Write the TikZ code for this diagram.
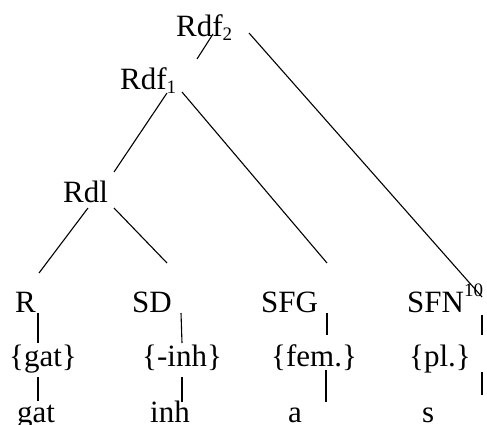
\documentclass[tikz,border=0pt]{standalone}
\usepackage{fontspec}
\setmainfont{Liberation Serif}
\usepackage{tikz}
\usetikzlibrary{positioning}
\newcommand\lo[1]{\raisebox{-3.5pt}{\fontsize{19}{19}\selectfont #1}}
\newcommand\hi[1]{\raisebox{16pt}{\fontsize{19}{19}\selectfont #1}}

\begin{document}
\begin{tikzpicture}[% styles for the whole tree, x/y in page pixels (y goes down)
				x=1pt,y=-1pt,
				every node/.style={
					font=\fontsize{31}{36}\selectfont,
					inner sep=0pt,
					anchor=base west	% place each label by its baseline
				},
				every edge/.style={draw,line width=1.1pt}
			]
			\useasboundingbox (0,0) rectangle (487,425);
			% upper part of the tree
			\node (Rdf2) at (176,37) {Rdf\lo{2}};
			\node (Rdf1) at (120,90) {Rdf\lo{1}};
			\node (Rdl) at (63,202) {Rdl};
			% first row
			\node (R) at (15,312) {R};
			\node (SD) at (132,312) {SD};
			\node (SFG) at (261,312) {SFG};
			\node (SFN) at (407,312) {SFN\hi{10}};
			% second row
			\node (M1) at (9,366) {\{gat\}};
			\node (M2) at (142,366) {\{-inh\}};
			\node (M3) at (271,366) {\{fem.\}};
			\node (M4) at (409,366) {\{pl.\}};
			% third row
			\node (W1) at (17,422) {gat};
			\node (W2) at (150,422) {inh};
			\node (W3) at (288,422) {a};
			\node (W4) at (422,422) {s};
			% ends of the branches
			\coordinate (Rdf2-l) at (213,34);
			\coordinate (Rdf2-r) at (249,33);
			\coordinate (Rdf1-t) at (197,59);
			\coordinate (Rdf1-l) at (167,93);
			\coordinate (Rdf1-r) at (182,92);
			\coordinate (Rdl-t) at (114,172);
			\coordinate (Rdl-l) at (88,208);
			\coordinate (Rdl-r) at (114,208);
			\coordinate (R-t) at (39,273);
			\coordinate (SD-t) at (167,263);
			\coordinate (SFG-t) at (327,263);
			\coordinate (SFN-t) at (482,297);
			\path
			(Rdf2-l) edge (Rdf1-t)
			(Rdf2-r) edge (SFN-t)
			(Rdf1-l) edge (Rdl-t)
			(Rdf1-r) edge (SFG-t)
			(Rdl-l) edge (R-t)
			(Rdl-r) edge (SD-t)
			;
			% vertical strokes between the rows
			\coordinate (R-b) at (38,313);
			\coordinate (M1-t) at (38,343);
			\coordinate (M1-b) at (38,377);
			\coordinate (W1-t) at (38,401);
			\coordinate (SD-b) at (181,313);
			\coordinate (M2-t) at (182,343);
			\coordinate (M2-b) at (182,377);
			\coordinate (W2-t) at (182,402);
			\coordinate (SFG-b) at (327,313);
			\coordinate (M3-t) at (327,335);
			\coordinate (M3-b) at (326,370);
			\coordinate (W3-t) at (326,402);
			\coordinate (SFN-b) at (482,315);
			\coordinate (M4-t) at (482,335);
			\coordinate (M4-b) at (482,372);
			\coordinate (W4-t) at (482,395);
			\path
			(R-b) edge (M1-t)
			(M1-b) edge (W1-t)
			(SD-b) edge (M2-t)
			(M2-b) edge (W2-t)
			(SFG-b) edge (M3-t)
			(M3-b) edge (W3-t)
			(SFN-b) edge (M4-t)
			(M4-b) edge (W4-t)
			;
		\end{tikzpicture}
\end{document}
